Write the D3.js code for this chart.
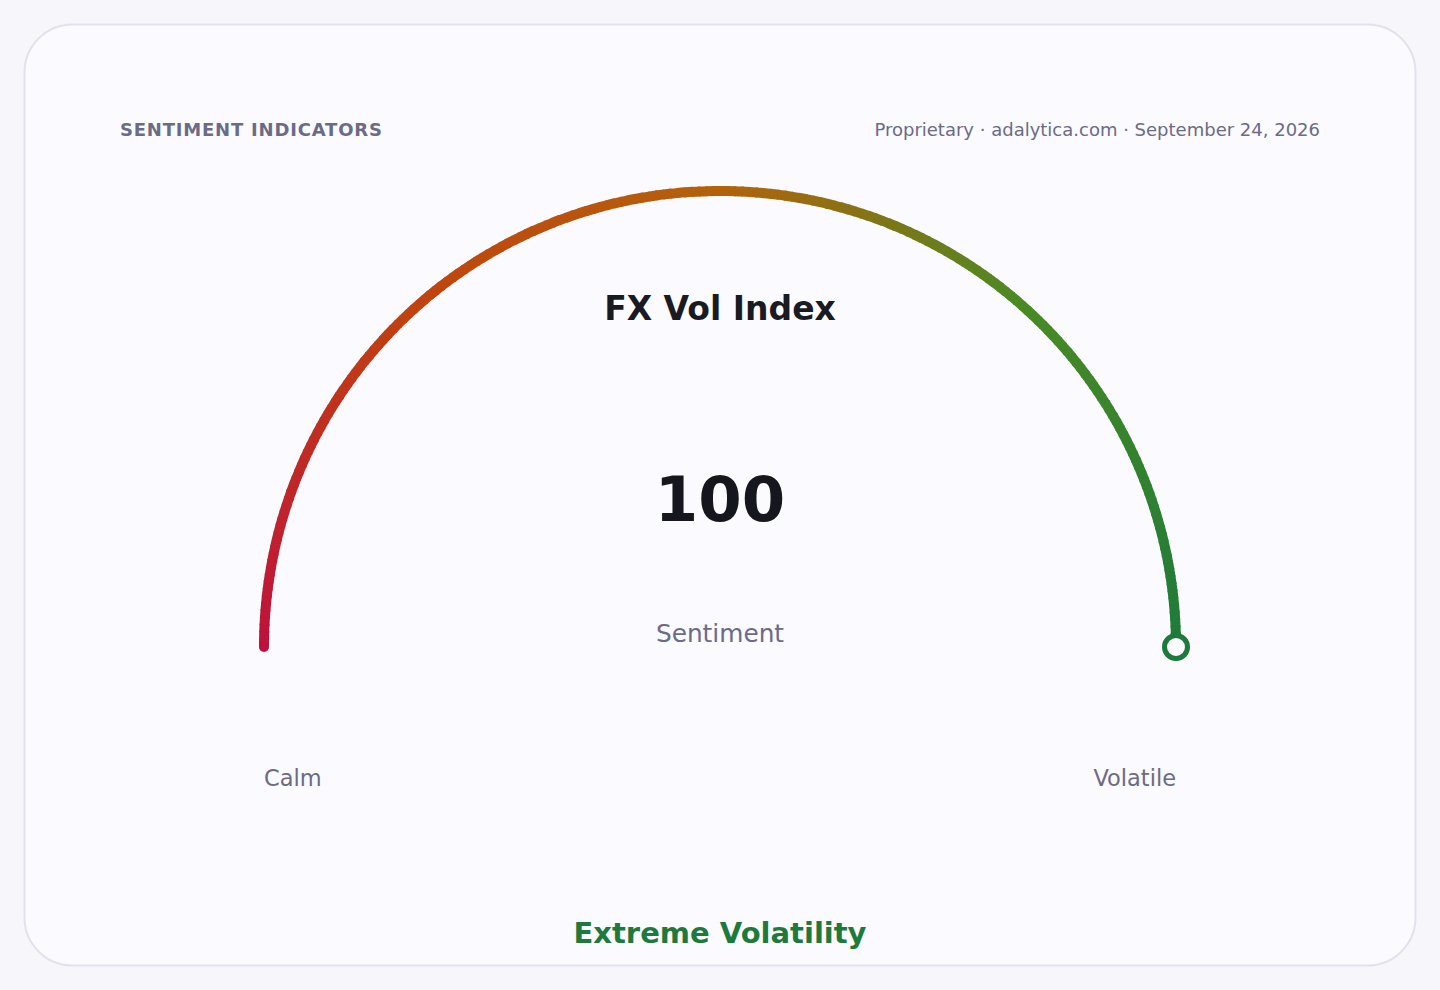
<!DOCTYPE html>
<html>
<head>
<meta charset="utf-8">
<script src="https://cdn.jsdelivr.net/npm/d3@7"></script>
<style>
  html, body { margin: 0; padding: 0; background: #f6f6fb; }
  svg { display: block; font-family: "DejaVu Sans", sans-serif; }
</style>
</head>
<body>
<div id="chart"></div>
<script>
var width = 1440,
    height = 990;

// gauge data
var gaugeTitle = 'FX Vol Index';
var gaugeValue = [100];
var gaugeDomain = [0, 100];
var endLabels = ['Calm', 'Volatile'];
var valueLabel = 'Sentiment';
var regimeLabel = 'Extreme Volatility';
var headerLeft = 'SENTIMENT INDICATORS';
var headerRight = 'Proprietary · adalytica.com · September 24, 2026';
var stopOffsets = [0, 0.27, 0.5, 0.73, 1];
var stopColors = ['#be123c', '#c0430f', '#b3620b', '#4a8a24', '#1e7a3a'];

var cx = 720, cy = 647, r = 456;

var svg = d3.select('#chart').append('svg')
  .attr('width', width)
  .attr('height', height);

// card
svg.append('rect')
  .attr('x', 24.5).attr('y', 24.5)
  .attr('width', 1391).attr('height', 941)
  .attr('rx', 48).attr('ry', 48)
  .attr('fill', '#fafaff')
  .attr('stroke', '#e2e2ee')
  .attr('stroke-width', 2);

// header
svg.append('text')
  .attr('x', 120).attr('y', 136)
  .attr('fill', '#6b6b88')
  .style('font-size', '18px')
  .style('font-weight', 'bold')
  .style('letter-spacing', '0.8px')
  .text(headerLeft);

svg.append('text')
  .attr('x', 1320).attr('y', 136)
  .attr('text-anchor', 'end')
  .attr('fill', '#6b6b85')
  .style('font-size', '18px')
  .text(headerRight);

// value -> angle (svg radians: pi = left, 2pi = right, via top)
var angle = d3.scaleLinear().domain(gaugeDomain).range([Math.PI, 2 * Math.PI]);

// color along the arc
var colorAt = d3.scaleLinear()
  .domain(stopOffsets.map(o => gaugeDomain[0] + o * (gaugeDomain[1] - gaugeDomain[0])))
  .range(stopColors);

// arc drawn as thin slices so the colour follows the arc
var steps = d3.range(gaugeDomain[0], gaugeDomain[1], 0.5);
var seg = svg.append('g').attr('class', 'gauge');

seg.selectAll('path')
  .data(steps)
  .enter().append('path')
  .attr('d', function(d) {
    var p = d3.path();
    var a0 = angle(d), a1 = Math.min(angle(d + 0.5) + 0.004, angle(gaugeDomain[1]));
    p.arc(cx, cy, r, a0, a1, false);
    return p.toString();
  })
  .attr('fill', 'none')
  .attr('stroke', d => colorAt(d + 0.25))
  .attr('stroke-width', 10);

// round caps at both ends
seg.selectAll('circle')
  .data(gaugeDomain)
  .enter().append('circle')
  .attr('cx', d => cx + r * Math.cos(angle(d)))
  .attr('cy', d => cy + r * Math.sin(angle(d)))
  .attr('r', 5)
  .attr('fill', d => colorAt(d));

// marker
svg.selectAll('.marker')
  .data(gaugeValue)
  .enter().append('circle')
  .attr('class', 'marker')
  .attr('cx', d => cx + r * Math.cos(angle(d)))
  .attr('cy', d => cy + r * Math.sin(angle(d)))
  .attr('r', 11.5)
  .attr('fill', '#fafaff')
  .attr('stroke', d => colorAt(d))
  .attr('stroke-width', 5);

// center texts
svg.append('text')
  .attr('x', cx).attr('y', 320)
  .attr('text-anchor', 'middle')
  .attr('fill', '#1a1a22')
  .style('font-size', '33px')
  .style('font-weight', 'bold')
  .text(gaugeTitle);

svg.append('text')
  .attr('x', cx).attr('y', 521)
  .attr('text-anchor', 'middle')
  .attr('fill', '#16161e')
  .style('font-size', '62.5px')
  .style('font-weight', 'bold')
  .text(gaugeValue[0]);

svg.append('text')
  .attr('x', cx).attr('y', 642)
  .attr('text-anchor', 'middle')
  .attr('fill', '#6b6b88')
  .style('font-size', '24.8px')
  .text(valueLabel);

// end labels
svg.append('text')
  .attr('x', cx - r).attr('y', 786)
  .attr('fill', '#6b6b85')
  .style('font-size', '22.5px')
  .text(endLabels[0]);

svg.append('text')
  .attr('x', cx + r).attr('y', 786)
  .attr('text-anchor', 'end')
  .attr('fill', '#6b6b85')
  .style('font-size', '22.5px')
  .text(endLabels[1]);

// regime
svg.append('text')
  .attr('x', cx).attr('y', 943)
  .attr('text-anchor', 'middle')
  .attr('fill', '#1e7a3c')
  .style('font-size', '29px')
  .style('font-weight', 'bold')
  .text(regimeLabel);
</script>
</body>
</html>
